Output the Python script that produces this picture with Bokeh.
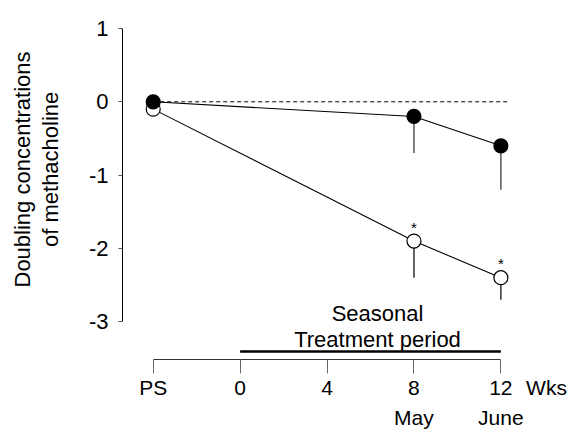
from bokeh.plotting import figure
from bokeh.models import Label, FixedTicker, Range1d, ColumnDataSource, LinearAxis, Title
from bokeh.core.properties import value
from bokeh.embed import file_html
from bokeh.resources import INLINE

# ---------------- data ----------------
weeks = [-4, 8, 12]            # PS (pre-season) drawn at -4
tick_weeks = [-4, 0, 4, 8, 12]
tick_labels = ["PS", "0", "4", "8", "12"]
unit_week = 14.1               # where the "Wks" unit label sits
unit_label = "Wks"
month_weeks = [8, 12]
month_labels = ["May", "June"]
filled_mean = [0.0, -0.2, -0.6]
filled_low = [0.0, -0.7, -1.2]
open_mean = [-0.1, -1.9, -2.4]
open_low = [-0.1, -2.4, -2.7]
signif = [False, True, True]
y_ticks = [1, 0, -1, -2, -3]
y_tick_labels = ["1", "0", "-1", "-2", "-3"]
y_title = ["Doubling concentrations", "of methacholine"]
period_title = ["Seasonal", "Treatment period"]
treat_start, treat_end = 0, 12

FONT = "Liberation Sans"

# pixel <-> data helpers (layout only)
PX_PER_WEEK = 21.73
X_PS_PX = 152.7
Y0_PX, PX_PER_UNIT = 101.3, 73.3
FRAME_TOP, FRAME_BOTTOM = 10, 359


def dx(px):
    return -4 + (px - X_PS_PX) / PX_PER_WEEK


def dy(py):
    return (Y0_PX - py) / PX_PER_UNIT


p = figure(width=573, height=432,
           x_range=Range1d(dx(122), dx(560)), y_range=Range1d(dy(FRAME_BOTTOM), dy(FRAME_TOP)),
           output_backend="svg", toolbar_location=None,
           min_border_left=122, min_border_right=13, min_border_top=FRAME_TOP, min_border_bottom=73)
p.grid.visible = False
p.outline_line_color = None
p.background_fill_color = "white"
p.border_fill_color = "white"

# ---- y axis ----
ya = p.yaxis[0]
ya.ticker = FixedTicker(ticks=y_ticks)
ya.major_label_overrides = {t: l for t, l in zip(y_ticks, y_tick_labels)}
ya.bounds = (min(y_ticks), max(y_ticks))
ya.major_tick_out = 4
ya.major_tick_in = 0
ya.minor_tick_line_color = None
ya.major_tick_line_color = "#555555"
ya.axis_line_color = "black"
ya.major_label_standoff = 10
ya.major_label_text_font = FONT
ya.major_label_text_font_size = "22px"
ya.major_label_text_color = "black"
# blank spacer label so the title lines sit further from the tick labels
ya.axis_label = " "
ya.axis_label_text_font_size = "1px"
ya.axis_label_standoff = 17

# y title, two centred lines (centre at y = 169 px)
widths = {y_title[0]: 236, y_title[1]: 155}
for txt in [y_title[1], y_title[0]]:
    off = FRAME_BOTTOM - (169 + widths[txt] / 2)
    p.add_layout(Title(text=txt, align="left", offset=off, standoff=1, vertical_align="middle",
                       text_font=FONT, text_font_size="22px", text_font_style="normal",
                       text_color="black"), "left")

# ---- x axis: A = rule + ticks ----
xa = p.xaxis[0]
xa.ticker = FixedTicker(ticks=tick_weeks)
xa.major_label_overrides = {w: "" for w in tick_weeks}
xa.major_label_text_font_size = "0px"
xa.major_label_standoff = 0
xa.bounds = (min(tick_weeks), max(tick_weeks))
xa.major_tick_out = 14
xa.major_tick_in = 0
xa.minor_tick_line_color = None
xa.major_tick_line_color = "#666666"
xa.axis_line_color = "#333333"

# ---- x axis: B = tick labels (+ unit) ----
xb = LinearAxis(ticker=FixedTicker(ticks=tick_weeks + [unit_week]),
                major_label_overrides={**{w: l for w, l in zip(tick_weeks, tick_labels)}, unit_week: unit_label},
                axis_line_color=None, major_tick_line_color=None, minor_tick_line_color=None,
                major_tick_out=0, major_tick_in=0, major_label_standoff=2,
                major_label_text_font=FONT, major_label_text_font_size="21px",
                major_label_text_color="black")
p.add_layout(xb, "below")

# ---- x axis: C = months ----
xc = LinearAxis(ticker=FixedTicker(ticks=month_weeks),
                major_label_overrides={w: l for w, l in zip(month_weeks, month_labels)},
                axis_line_color=None, major_tick_line_color=None, minor_tick_line_color=None,
                major_tick_out=0, major_tick_in=0, major_label_standoff=4,
                major_label_text_font=FONT, major_label_text_font_size="21px",
                major_label_text_color="black")
p.add_layout(xc, "below")

# zero reference line
p.segment(x0=weeks[0], y0=0, x1=weeks[-1] + 0.35, y1=0,
          line_color="black", line_width=1, line_dash="4 3")

# treatment period bar
p.segment(x0=treat_start, y0=dy(351), x1=treat_end, y1=dy(351),
          line_color="black", line_width=2.5)

# connecting lines
p.line(weeks, filled_mean, line_color="black", line_width=1.1)
p.line(weeks, open_mean, line_color="black", line_width=1.1)

# error bars (downward only)
p.segment(x0=weeks[1:], y0=filled_mean[1:], x1=weeks[1:], y1=filled_low[1:],
          line_color="#555555", line_width=1.5)
p.segment(x0=weeks[1:], y0=open_mean[1:], x1=weeks[1:], y1=open_low[1:],
          line_color="#333333", line_width=1.5)

# markers
p.scatter(weeks, open_mean, size=14, marker="circle",
          fill_color="white", line_color="black", line_width=1.2)
p.scatter(weeks, filled_mean, size=14, marker="circle",
          fill_color="black", line_color="black", line_width=1.2)

# significance asterisks
sig_src = ColumnDataSource(dict(
    x=[w for w, s in zip(weeks, signif) if s],
    y=[m for m, s in zip(open_mean, signif) if s],
    t=["*" for s in signif if s]))
p.text(x="x", y="y", text="t", source=sig_src, text_align="center", text_baseline="middle",
       y_offset=-14, text_font=value(FONT), text_font_size="15px", text_color="black")

# treatment period title
for txt, py in zip(period_title, [313, 339]):
    p.add_layout(Label(x=dx(377), y=dy(py), text=txt, text_align="center", text_baseline="alphabetic",
                       text_font=FONT, text_font_size="22px", text_color="black"))

open("out.html", "w").write(file_html(p, INLINE))
